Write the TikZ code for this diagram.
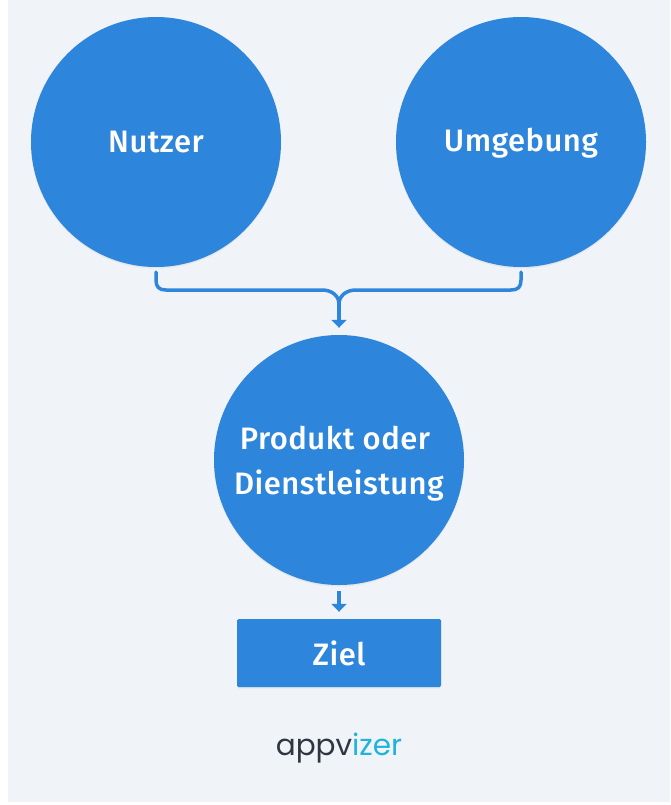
\documentclass[tikz,border=0pt]{standalone}
\usepackage{fontspec}
\setmainfont[UprightFont=* Medium]{Fira Sans}
\newfontfamily\logofont{Poppins}
\usetikzlibrary{shadows,arrows.meta}
\definecolor{bluemain}{HTML}{2D86DB}
\definecolor{pagebg}{HTML}{F0F3F8}
\definecolor{logodark}{HTML}{2F3642}
\definecolor{logoblue}{HTML}{22B3DC}
\tikzset{
  softshadow/.style={drop shadow={opacity=.10,shadow xshift=0pt,shadow yshift=-1.5pt}},
  labeltext/.style={text=white,align=center,inner sep=0pt,font=\fontsize{31}{45}\selectfont\addfontfeatures{LetterSpace=1.5}},
  bigcircle/.style={circle,fill=bluemain,minimum size=250pt,labeltext,softshadow},
  goalbox/.style={rectangle,rounded corners=1.5pt,fill=bluemain,minimum width=204pt,minimum height=68pt,labeltext,softshadow},
  link/.style={draw=bluemain,line width=3.5pt,line cap=round},
  linkarrow/.style={link,line cap=butt,-{Triangle[length=8pt,width=15pt]}}
}
\begin{document}
\begin{tikzpicture}[x=1pt,y=-1pt]
\useasboundingbox (0,0) rectangle (670,805);
\fill[white] (0,0) rectangle (670,805);
\fill[pagebg] (8,0) rectangle (670,802);
\node[bigcircle] (nutzer) at (156,142) {Nutzer};
\node[bigcircle] (umgebung) at (521,142) {\rule{0pt}{26pt}Umgebung};
\node[bigcircle] (produkt) at (339,460) {\rule{0pt}{31pt}Produkt oder\kern8pt\\Dienstleistung};
\node[goalbox] (ziel) at (339,653) {Ziel};
\node[font=\logofont\fontsize{29.5}{30}\selectfont,inner sep=0pt] (logo) at (339,748) {\textcolor{logodark}{appv}\textcolor{logoblue}{izer}};
\coordinate (leftstart) at ([yshift=-5pt]nutzer.south);
\coordinate (rightstart) at ([yshift=-5pt]umgebung.south);
\coordinate (join) at (339,304);
\coordinate (jointip) at ([yshift=7pt]produkt.north);
\coordinate (lowstart) at ([yshift=-6pt]produkt.south);
\coordinate (lowtip) at ([yshift=7pt]ziel.north);
\draw[link] (leftstart) -- (156,280) .. controls (156,287) and (159,290) .. (166,290) -- (322,290) .. controls (332,290) and (339,296) .. (join);
\draw[link] (rightstart) -- (521,280) .. controls (521,287) and (518,290) .. (511,290) -- (356,290) .. controls (346,290) and (339,296) .. (join);
\draw[linkarrow] (join) -- (jointip);
\draw[linkarrow] (lowstart) -- (lowtip);
\end{tikzpicture}
\end{document}
